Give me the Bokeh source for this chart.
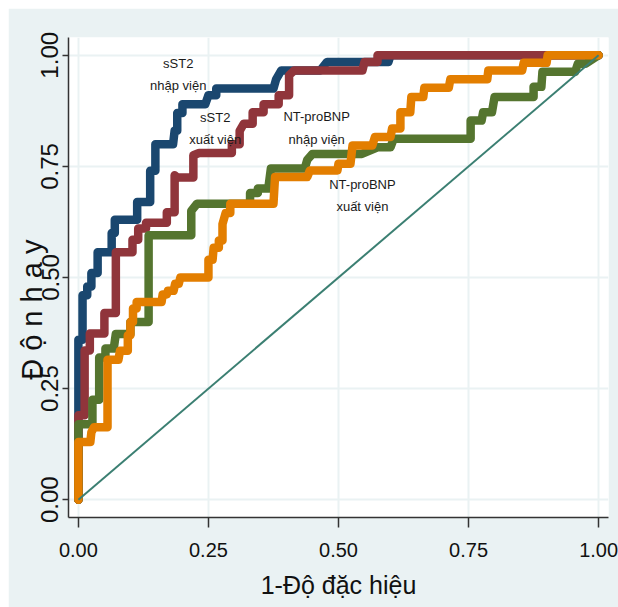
from bokeh.plotting import figure
from bokeh.models import Range1d, FixedTicker, ColumnDataSource
from bokeh.core.properties import value
from bokeh.embed import file_html
from bokeh.resources import INLINE

# ---------------- data ----------------
tick_vals = [0.0, 0.25, 0.5, 0.75, 1.0]
tick_labels = ["0.00", "0.25", "0.50", "0.75", "1.00"]

# ROC curves: (1 - specificity, sensitivity)
sst2_adm = [(0, 0), (0, 0.36), (0.008, 0.36), (0.008, 0.46), (0.017, 0.46), (0.017, 0.48),
            (0.025, 0.48), (0.025, 0.51), (0.037, 0.51), (0.037, 0.557), (0.064, 0.557),
            (0.064, 0.60), (0.07, 0.60), (0.07, 0.63), (0.113, 0.63), (0.113, 0.67),
            (0.138, 0.67), (0.138, 0.74), (0.148, 0.74), (0.148, 0.80), (0.182, 0.80),
            (0.185, 0.83), (0.19, 0.83), (0.19, 0.87), (0.20, 0.87), (0.20, 0.89),
            (0.244, 0.89), (0.25, 0.91), (0.265, 0.91), (0.265, 0.925), (0.375, 0.925),
            (0.38, 0.946), (0.39, 0.966), (0.465, 0.966), (0.478, 0.985), (0.596, 0.985),
            (0.60, 1.0), (1.0, 1.0)]

sst2_dis = [(0, 0), (0, 0.19), (0.012, 0.19), (0.012, 0.336), (0.022, 0.336), (0.022, 0.374),
            (0.05, 0.374), (0.05, 0.42), (0.072, 0.42), (0.072, 0.557), (0.104, 0.557),
            (0.104, 0.585), (0.115, 0.585), (0.115, 0.61), (0.13, 0.61), (0.13, 0.623),
            (0.17, 0.623), (0.17, 0.647), (0.185, 0.647), (0.185, 0.73), (0.19, 0.725),
            (0.221, 0.725), (0.221, 0.775), (0.232, 0.78), (0.295, 0.78), (0.295, 0.80),
            (0.31, 0.80), (0.31, 0.83), (0.318, 0.846), (0.335, 0.846), (0.335, 0.872),
            (0.356, 0.872), (0.356, 0.89), (0.385, 0.89), (0.385, 0.91), (0.405, 0.91),
            (0.405, 0.955), (0.415, 0.966), (0.546, 0.966), (0.55, 0.985), (0.575, 0.985),
            (0.575, 1.0), (1.0, 1.0)]

ntpro_adm = [(0, 0), (0, 0.17), (0.027, 0.17), (0.027, 0.225), (0.04, 0.225), (0.04, 0.32),
             (0.052, 0.32), (0.052, 0.34), (0.068, 0.34), (0.072, 0.373), (0.1, 0.373),
             (0.1, 0.40), (0.135, 0.40), (0.135, 0.595), (0.217, 0.595), (0.217, 0.65),
             (0.228, 0.666), (0.33, 0.666), (0.33, 0.69), (0.345, 0.69), (0.345, 0.70),
             (0.365, 0.70), (0.37, 0.745), (0.435, 0.745), (0.44, 0.765), (0.45, 0.778),
             (0.545, 0.778), (0.575, 0.793), (0.6, 0.793), (0.606, 0.812), (0.754, 0.812),
             (0.754, 0.853), (0.775, 0.853), (0.778, 0.872), (0.795, 0.872), (0.8, 0.906),
             (0.875, 0.906), (0.875, 0.929), (0.89, 0.929), (0.892, 0.963), (0.955, 0.963),
             (0.96, 0.981), (0.975, 0.981), (1.0, 1.0)]

ntpro_dis = [(0, 0), (0, 0.13), (0.023, 0.13), (0.025, 0.152), (0.03, 0.163), (0.056, 0.163),
             (0.056, 0.315), (0.077, 0.315), (0.08, 0.335), (0.095, 0.335), (0.095, 0.37),
             (0.1, 0.37), (0.1, 0.40), (0.105, 0.40), (0.105, 0.43), (0.112, 0.43),
             (0.112, 0.445), (0.16, 0.445), (0.162, 0.462), (0.17, 0.462), (0.172, 0.47),
             (0.183, 0.47), (0.186, 0.486), (0.193, 0.486), (0.196, 0.50), (0.25, 0.50),
             (0.25, 0.54), (0.258, 0.54), (0.26, 0.567), (0.27, 0.567), (0.27, 0.583),
             (0.277, 0.583), (0.277, 0.62), (0.283, 0.645), (0.292, 0.645), (0.292, 0.666),
             (0.375, 0.666), (0.378, 0.726), (0.44, 0.726), (0.445, 0.741), (0.498, 0.741),
             (0.5, 0.756), (0.523, 0.756), (0.527, 0.797), (0.565, 0.797), (0.57, 0.816),
             (0.6, 0.816), (0.603, 0.835), (0.619, 0.835), (0.619, 0.872), (0.638, 0.872),
             (0.64, 0.906), (0.663, 0.906), (0.665, 0.927), (0.712, 0.927), (0.715, 0.946),
             (0.786, 0.946), (0.788, 0.966), (0.853, 0.966), (0.856, 0.983), (0.9, 0.983),
             (0.902, 1.0), (1.0, 1.0)]

reference_line = [(0.0, 0.0), (1.0, 1.0)]

ann_x = [0.192, 0.192, 0.263, 0.263, 0.458, 0.458, 0.546, 0.546]
ann_y = [0.982, 0.932, 0.860, 0.811, 0.862, 0.811, 0.709, 0.660]
ann_text = ["sST2", "nhập viện", "sST2", "xuất viện",
            "NT-proBNP", "nhập viện", "NT-proBNP", "xuất viện"]

x_title = "1-Độ đặc hiệu"
y_title = "Đ ộ  n h a y"

# ---------------- styles ----------------
BG = "#EAF2F3"
curve_colors = ["#1a476f", "#90353b", "#55752f", "#e37e00"]
diag_color = "#3b7f72"
FONT = "Liberation Sans"

p = figure(width=610, height=599,
           x_range=Range1d(-0.019, 1.019), y_range=Range1d(-0.04, 1.04),
           output_backend="svg", toolbar_location=None,
           min_border_left=60, min_border_right=10,
           min_border_top=29, min_border_bottom=90)
p.margin = (8, 0, 0, 8)
p.background_fill_color = "white"
p.border_fill_color = BG
p.outline_line_color = None

for g in (p.xgrid, p.ygrid):
    g.ticker = FixedTicker(ticks=tick_vals)
    g.grid_line_color = BG
    g.grid_line_width = 2

overrides = {v: s for v, s in zip(tick_vals, tick_labels)}

xa = p.xaxis[0]
xa.ticker = FixedTicker(ticks=tick_vals)
xa.major_label_overrides = overrides
xa.axis_line_color = "#333333"
xa.axis_line_width = 1.5
xa.major_tick_line_color = "#333333"
xa.major_tick_line_width = 1.5
xa.major_tick_out = 10
xa.major_tick_in = 0
xa.minor_tick_line_color = None
xa.major_label_text_font = FONT
xa.major_label_text_font_size = "20px"
xa.major_label_text_color = "#111111"
xa.major_label_standoff = 15
xa.axis_label = x_title
xa.axis_label_text_font = FONT
xa.axis_label_text_font_size = "25px"
xa.axis_label_text_font_style = "normal"
xa.axis_label_text_color = "#111111"
xa.axis_label_standoff = 11

ya = p.yaxis[0]
ya.ticker = FixedTicker(ticks=tick_vals)
ya.major_label_overrides = overrides
ya.axis_line_color = "#333333"
ya.axis_line_width = 1.5
ya.major_tick_line_color = "#333333"
ya.major_tick_line_width = 1.5
ya.major_tick_out = 6
ya.major_tick_in = 0
ya.minor_tick_line_color = None
ya.major_label_orientation = "vertical"
ya.major_label_text_font = FONT
ya.major_label_text_font_size = "24px"
ya.major_label_text_color = "#111111"
ya.major_label_standoff = 4
ya.axis_label = y_title + "\u00a0" * 7
ya.axis_label_text_font = FONT
ya.axis_label_text_font_size = "29px"
ya.axis_label_text_font_style = "normal"
ya.axis_label_text_color = "#111111"
ya.axis_label_standoff = -9

curves = [sst2_adm, sst2_dis, ntpro_adm, ntpro_dis]
for pts, col in zip(curves, curve_colors):
    xs = [a for a, b in pts]
    ys = [b for a, b in pts]
    p.line(xs, ys, line_color=col, line_width=8.5, line_join="round", line_cap="round")

p.line([a for a, b in reference_line], [b for a, b in reference_line],
       line_color=diag_color, line_width=2)

src = ColumnDataSource(dict(x=ann_x, y=ann_y, t=ann_text))
p.text("x", "y", text="t", source=src, text_font=value(FONT),
       text_font_size="13px", text_align="center", text_baseline="middle",
       text_color="#1a1a1a")

open("out.html", "w").write(file_html(p, INLINE))
